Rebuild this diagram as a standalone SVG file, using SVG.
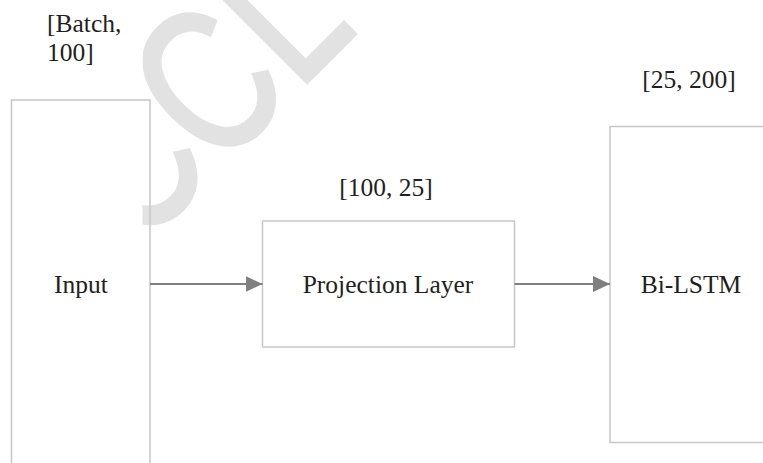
<svg xmlns="http://www.w3.org/2000/svg" width="763" height="463" viewBox="0 0 763 463">
<style>
.box{fill:none;stroke:#c6c6c6;stroke-width:1.5}
.lbl{font-family:"Liberation Serif","Times New Roman",serif;font-size:25.5px;fill:#231f20}
.mid{text-anchor:middle}
.edge{stroke:#7f7f7f;stroke-width:2;fill:none}
.wm{font-family:"Liberation Sans",Arial,sans-serif;font-size:205px;fill:#e2e2e2;stroke:#e2e2e2;stroke-width:4}
</style>
<defs>
<clipPath id="wmclip"><rect x="142.5" y="0" width="620" height="463"/></clipPath>
<marker id="arr" markerUnits="userSpaceOnUse" markerWidth="18" markerHeight="18" refX="17" refY="9" orient="auto">
<path d="M0,1 L17,9 L0,17 Z" fill="#7f7f7f"/>
</marker>
</defs>
<rect width="763" height="463" fill="#fff"/>
<g id="watermark" clip-path="url(#wmclip)">
<text class="wm" transform="rotate(-45) scale(0.76,1)" x="-104.2 41.8 192.2" y="275">CCL</text>
</g>
<g id="input">
<rect class="box" x="11.5" y="100" width="138.5" height="400"/>
<text class="lbl" x="47" y="32">[Batch,</text>
<text class="lbl" x="47" y="61">100]</text>
<text class="lbl mid" x="81" y="293">Input</text>
</g>
<g id="projection">
<rect class="box" x="262.5" y="221" width="252" height="126"/>
<text class="lbl mid" x="386" y="196">[100, 25]</text>
<text class="lbl mid" x="388" y="293">Projection Layer</text>
</g>
<g id="bilstm">
<rect class="box" x="610" y="126.5" width="200" height="316"/>
<text class="lbl mid" x="689" y="88">[25, 200]</text>
<text class="lbl mid" x="691" y="293">Bi-LSTM</text>
</g>
<g id="connectors">
<line class="edge" x1="150" y1="284" x2="262.5" y2="284" marker-end="url(#arr)"/>
<line class="edge" x1="514.5" y1="284" x2="610" y2="284" marker-end="url(#arr)"/>
</g>
</svg>
